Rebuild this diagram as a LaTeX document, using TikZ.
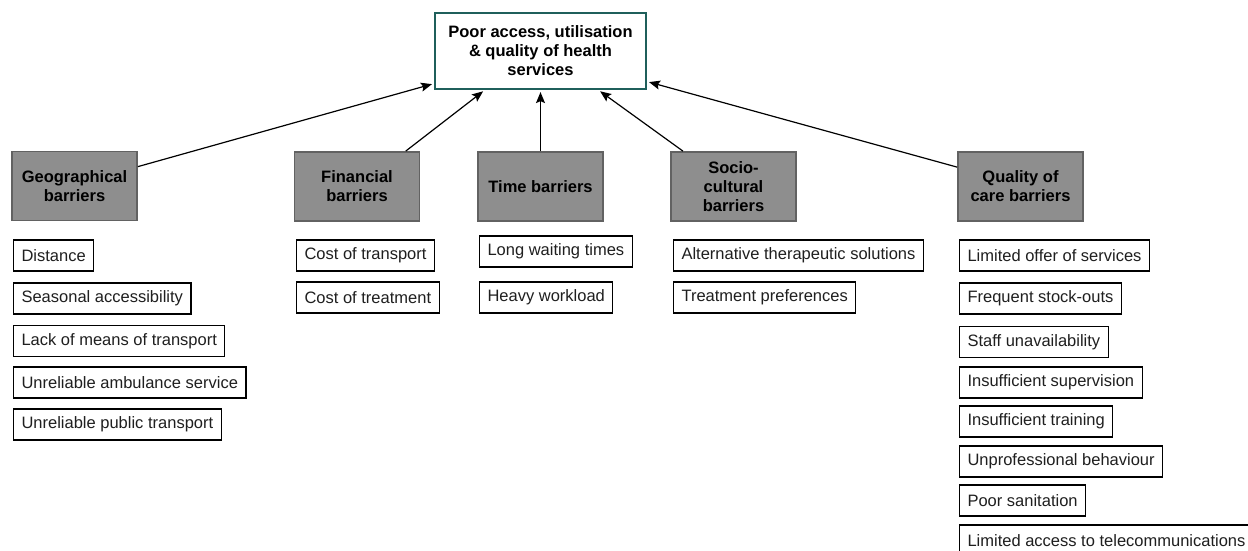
\documentclass[tikz,border=0pt]{standalone}
\usepackage{fontspec}
\setmainfont{Liberation Sans}
\usetikzlibrary{arrows.meta}
\definecolor{teal1}{HTML}{1F5F5B}
\definecolor{hdrfill}{HTML}{8E8E8E}
\definecolor{hdrline}{HTML}{626262}
\tikzset{
  topbox/.style={draw=teal1, line width=2.2pt, fill=white, minimum width=211pt, minimum height=76pt,
    align=center, font=\fontsize{16.5}{19}\selectfont\bfseries, inner sep=0pt},
  hdr/.style={draw=hdrline, line width=1.8pt, fill=hdrfill, minimum width=125pt, minimum height=69pt,
    align=center, font=\fontsize{16.5}{19}\selectfont\bfseries, inner sep=0pt},
  leaf/.style={draw=black, line width=1.1pt, fill=white, minimum height=31pt, inner xsep=8pt, inner ysep=0pt,
    anchor=west, font=\fontsize{16.5}{19}\selectfont, text=black!88},
  arr/.style={line width=1.2pt, -{Stealth[length=11pt,width=9pt,inset=2pt]}, shorten >=2pt}
}
\begin{document}
\begin{tikzpicture}[x={(1pt,0)}, y={(0,-1pt)}]
\clip (0,0) rectangle (1248,550);
\fill[white] (0,0) rectangle (1248,550);

\node[topbox] (top) at (540.5,51) {Poor access, utilisation\\\& quality of health\\services};

\node[hdr] (geo) at (74.5,186) {Geographical\\barriers};
\node[hdr] (fin) at (357,186.5) {Financial\\barriers};
\node[hdr] (tim) at (540.5,186.5) {Time barriers};
\node[hdr] (soc) at (733.5,186.5) {Socio-\\cultural\\barriers};
\node[hdr] (qua) at (1020.5,186.5) {Quality of\\care barriers};

\node[leaf] (g1) at (13,255.5) {Distance};
\node[leaf] (g2) at (13,298.5) {Seasonal accessibility};
\node[leaf] (g3) at (13,341) {Lack of means of transport};
\node[leaf] (g4) at (13,382.5) {Unreliable ambulance service};
\node[leaf] (g5) at (13,424.5) {Unreliable public transport};

\node[leaf] (f1) at (296,255.5) {Cost of transport};
\node[leaf] (f2) at (296,297.5) {Cost of treatment};

\node[leaf] (t1) at (479,251.5) {Long waiting times};
\node[leaf] (t2) at (479,297.5) {Heavy workload};

\node[leaf] (s1) at (673,255.5) {Alternative therapeutic solutions};
\node[leaf] (s2) at (673,297.5) {Treatment preferences};

\node[leaf] (q1) at (959,255.5) {Limited offer of services};
\node[leaf] (q2) at (959,298.5) {Frequent stock-outs};
\node[leaf] (q3) at (959,342) {Staff unavailability};
\node[leaf] (q4) at (959,382.5) {Insufficient supervision};
\node[leaf] (q5) at (959,421.5) {Insufficient training};
\node[leaf] (q6) at (959,461.5) {Unprofessional behaviour};
\node[leaf] (q7) at (959,500.5) {Poor sanitation};
\node[leaf] (q8) at (959,540.5) {Limited access to telecommunications};

\draw[arr] (geo.17) -- (top.197);
\draw[arr] (fin.36) -- (top.215);
\draw[arr] (tim.north) -- (top.south);
\draw[arr] (soc.145) -- (top.-34);
\draw[arr] (qua.163) -- (top.-16);
\end{tikzpicture}
\end{document}
